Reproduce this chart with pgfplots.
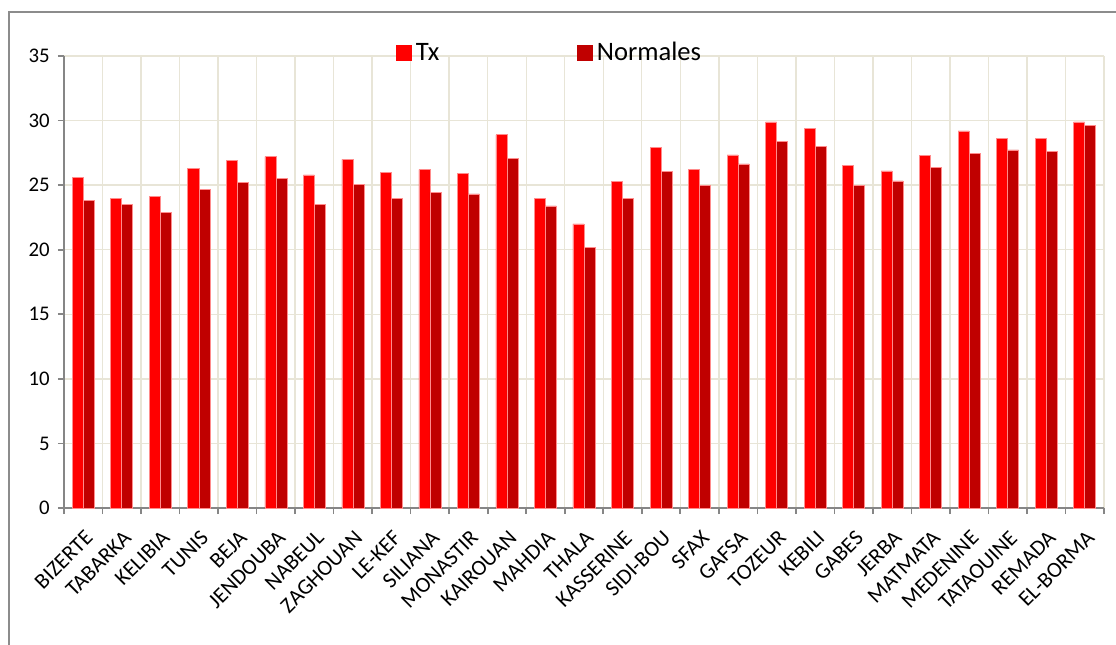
\documentclass[border=0pt]{standalone}
\usepackage{pgfplots}
\pgfplotsset{compat=1.18}
\usepackage{fontspec}
\setmainfont{Carlito}
\definecolor{txred}{RGB}{255,0,0}
\definecolor{normred}{RGB}{192,0,0}
\definecolor{baredge}{RGB}{255,140,140}
\definecolor{gridc}{RGB}{232,229,215}
\definecolor{axisc}{RGB}{134,134,134}
\definecolor{framec}{RGB}{140,140,140}
\begin{document}
\begin{tikzpicture}
\useasboundingbox (-32pt,-68pt) rectangle (526pt,254pt);
\draw[framec, line width=0.8pt] (-27.5pt,-90pt) -- (-27.5pt,248pt) -- (560pt,248pt);
\begin{axis}[
  at={(0pt,0pt)}, anchor=south west,
  scale only axis,
  width=520pt, height=226pt,
  ymin=0, ymax=35, ytick={0,5,...,35},
  xmin=-0.5, xmax=26.5,
  xtick={0,...,26},
  xticklabels={BIZERTE,TABARKA,KELIBIA,TUNIS,BEJA,JENDOUBA,NABEUL,ZAGHOUAN,LE-KEF,SILIANA,MONASTIR,KAIROUAN,MAHDIA,THALA,KASSERINE,SIDI-BOU,SFAX,GAFSA,TOZEUR,KEBILI,GABES,JERBA,MATMATA,MEDENINE,TATAOUINE,REMADA,EL-BORMA},
  minor xtick={-0.5,0.5,...,26.5},
  major x tick style={draw=none},
  xminorgrids=true, ymajorgrids=true,
  grid style={gridc, line width=0.7pt},
  minor grid style={gridc, line width=0.7pt},
  axis x line*=bottom, axis y line*=left,
  axis line style={axisc, line width=0.8pt},
  tick style={axisc, line width=0.8pt},
  tick align=outside,
  major tick length=3pt, minor tick length=3pt,
  ticklabel style={font=\fontsize{10.4}{12}\selectfont},
  /pgf/number format/assume math mode=true,
  xticklabel style={rotate=45, anchor=north east, font=\fontsize{11}{13}\selectfont, inner sep=1pt, xshift=-4pt, yshift=-4.5pt},
  yticklabel style={inner sep=1pt, xshift=-3pt},
  ybar=0pt, bar width=0.286,
  legend style={at={(rel axis cs:0.468,1.0066)}, anchor=center, draw=none, fill=none,
    legend columns=2, font=\fontsize{13.3}{15}\selectfont,
    /tikz/every even column/.append style={column sep=67pt},
    nodes={inner sep=2pt}},
  legend cell align=left,
]
\addplot[fill=txred, draw=baredge, line width=0.3pt, bar shift=-0.143,
  legend image code/.code={\fill[txred] (0pt,-3.75pt) rectangle (7.5pt,3.75pt);}]
  coordinates {(0,25.6)(1,24.0)(2,24.1)(3,26.3)(4,26.9)(5,27.2)(6,25.8)(7,27.0)(8,26.0)(9,26.2)(10,25.9)(11,28.9)(12,24.0)(13,22.0)(14,25.3)(15,27.9)(16,26.2)(17,27.35)(18,29.9)(19,29.4)(20,26.5)(21,26.1)(22,27.3)(23,29.2)(24,28.6)(25,28.6)(26,29.9)};
\addlegendentry{Tx}
\addplot[fill=normred, draw=baredge, line width=0.3pt, bar shift=0.143,
  legend image code/.code={\fill[normred] (0pt,-3.75pt) rectangle (7.5pt,3.75pt);}]
  coordinates {(0,23.8)(1,23.5)(2,22.9)(3,24.7)(4,25.2)(5,25.5)(6,23.5)(7,25.05)(8,24.0)(9,24.45)(10,24.33)(11,27.1)(12,23.4)(13,20.2)(14,24.0)(15,26.05)(16,25.0)(17,26.65)(18,28.4)(19,28.0)(20,24.95)(21,25.33)(22,26.4)(23,27.47)(24,27.73)(25,27.63)(26,29.6)};
\addlegendentry{Normales}
\end{axis}
\end{tikzpicture}
\end{document}
